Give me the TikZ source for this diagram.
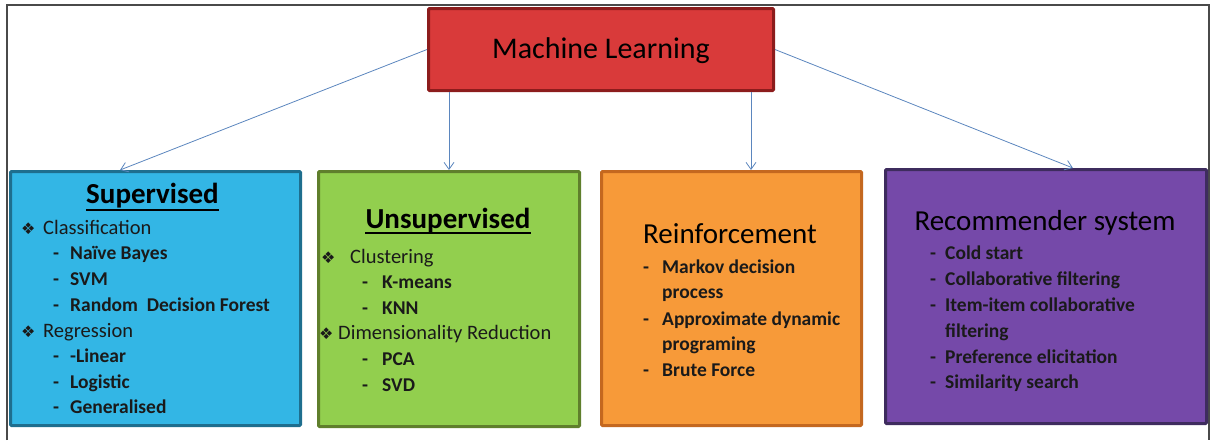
\documentclass[tikz,border=0pt]{standalone}
\usepackage{fontspec}
\setmainfont{Carlito}
\newfontfamily\symfont{DejaVu Sans}
\usetikzlibrary{arrows.meta,calc}

\definecolor{framec}{HTML}{4A4A4A}
\definecolor{arrowc}{HTML}{5B86BE}
\definecolor{txt}{HTML}{1A1A1A}
\definecolor{mlfill}{HTML}{D93A3A}
\definecolor{mlline}{HTML}{8C1C1C}
\definecolor{supfill}{HTML}{33B6E5}
\definecolor{supline}{HTML}{1E6E8E}
\definecolor{unfill}{HTML}{92CF4E}
\definecolor{unline}{HTML}{5F7F2C}
\definecolor{refill}{HTML}{F79A39}
\definecolor{reline}{HTML}{C4681F}
\definecolor{recfill}{HTML}{7549A9}
\definecolor{recline}{HTML}{3E2C5E}

\tikzset{
  box/.style={line width=3pt, rounded corners=1pt, inner sep=0},
  conn/.style={draw=arrowc, line width=0.8pt, -{Straight Barb[length=7pt,width=10pt]}},
  ttl/.style={anchor=base, inner sep=0, text=black, font=\fontsize{29}{29}\selectfont},
  head/.style={anchor=base west, inner sep=0, text=txt, font=\fontsize{20.5}{20}\selectfont},
  item/.style={anchor=base west, inner sep=0, text=txt, font=\fontsize{19.5}{20}\selectfont\bfseries},
  bul/.style={anchor=base west, inner sep=0, text=txt, font=\symfont\fontsize{16}{16}\selectfont},
  uline/.style={line width=2pt, black},
}

\begin{document}
\begin{tikzpicture}[x=1pt,y=-1pt]
\useasboundingbox (0,0) rectangle (1210,440);

% page frame
\draw[framec, line width=2pt] (7,440) -- (7,5) -- (1209,5) -- (1209,440);

% boxes
\node[box, draw=mlline, fill=mlfill, minimum width=345, minimum height=82] (ml) at (601,49.5) {};
\node[box, draw=supline, fill=supfill, minimum width=290, minimum height=254] (sup) at (155.5,298.5) {};
\node[box, draw=unline, fill=unfill, minimum width=261, minimum height=255] (uns) at (449,299) {};
\node[box, draw=reline, fill=refill, minimum width=260, minimum height=254] (rei) at (731.5,298.5) {};
\node[box, draw=recline, fill=recfill, minimum width=321, minimum height=254] (rec) at (1046,296.5) {};

% connectors
\draw[conn] (ml.west) -- ($(sup.north west)!0.379!(sup.north east)$);
\draw[conn] (ml.south -| uns.north) -- (uns.north);
\draw[conn] ([xshift=-24pt]ml.south east) -- ([xshift=-24pt]ml.south east |- rei.north);
\draw[conn] (ml.east) -- ($(rec.north west)!0.583!(rec.north east)$);

% root label
\node[ttl, font=\fontsize{30}{30}\selectfont] (mlt) at (601,58) {Machine Learning};

% supervised
\node[ttl, font=\fontsize{29}{29}\selectfont\bfseries] (supt) at (152.5,203) {Supervised};
\draw[uline] ([yshift=-7pt]supt.base west) -- ([yshift=-7pt]supt.base east);
\node[bul] (sb1) at (21,234) {❖};
\node[head] (sh1) at (43,234) {Classification};
\node[bul] (sb2) at (21,337) {❖};
\node[head] (sh2) at (43,337) {Regression};
\foreach \y/\t [count=\i] in {259.7/Naïve Bayes, 285.4/SVM, 311.1/Random\ \ Decision Forest,
                              362.5/-Linear, 388.2/Logistic, 413.9/Generalised}
  \node[item] (si\i) at (53,\y) {\makebox[17pt][l]{-}\t};

% unsupervised
\node[ttl, font=\fontsize{29}{29}\selectfont\bfseries] (unst) at (448,228) {Unsupervised};
\draw[uline] ([yshift=-5pt]unst.base west) -- ([yshift=-5pt]unst.base east);
\node[bul] (ub1) at (321,263) {❖};
\node[head] (uh1) at (350,263) {Clustering};
\node[bul] (ub2) at (319,339.8) {❖};
\node[head] (uh2) at (338,339.8) {Dimensionality Reduction};
\foreach \y/\t [count=\i] in {288.6/K-means, 314.2/KNN, 365.4/PCA, 391/SVD}
  \node[item] (ui\i) at (362,\y) {\makebox[20pt][l]{-}\t};

% reinforcement
\node[ttl] (reit) at (730,243) {Reinforcement};
\foreach \y/\d/\t [count=\i] in {273/-/Markov decision, 298.5/{}/process,
                                 325/-/Approximate dynamic, 350/{}/programing, 376.5/-/Brute Force}
  \node[item] (ri\i) at (643,\y) {\makebox[19pt][l]{\d}\t};

% recommender system
\node[ttl] (rect) at (1045,230) {Recommender system};
\foreach \y/\d/\t [count=\i] in {259/-/Cold start, 285/-/Collaborative filtering,
                                 311.5/-/Item-item collaborative, 337/{}/filtering,
                                 363/-/Preference elicitation, 388.5/-/Similarity search}
  \node[item] (ci\i) at (930,\y) {\makebox[15pt][l]{\d}\t};
\end{tikzpicture}
\end{document}
